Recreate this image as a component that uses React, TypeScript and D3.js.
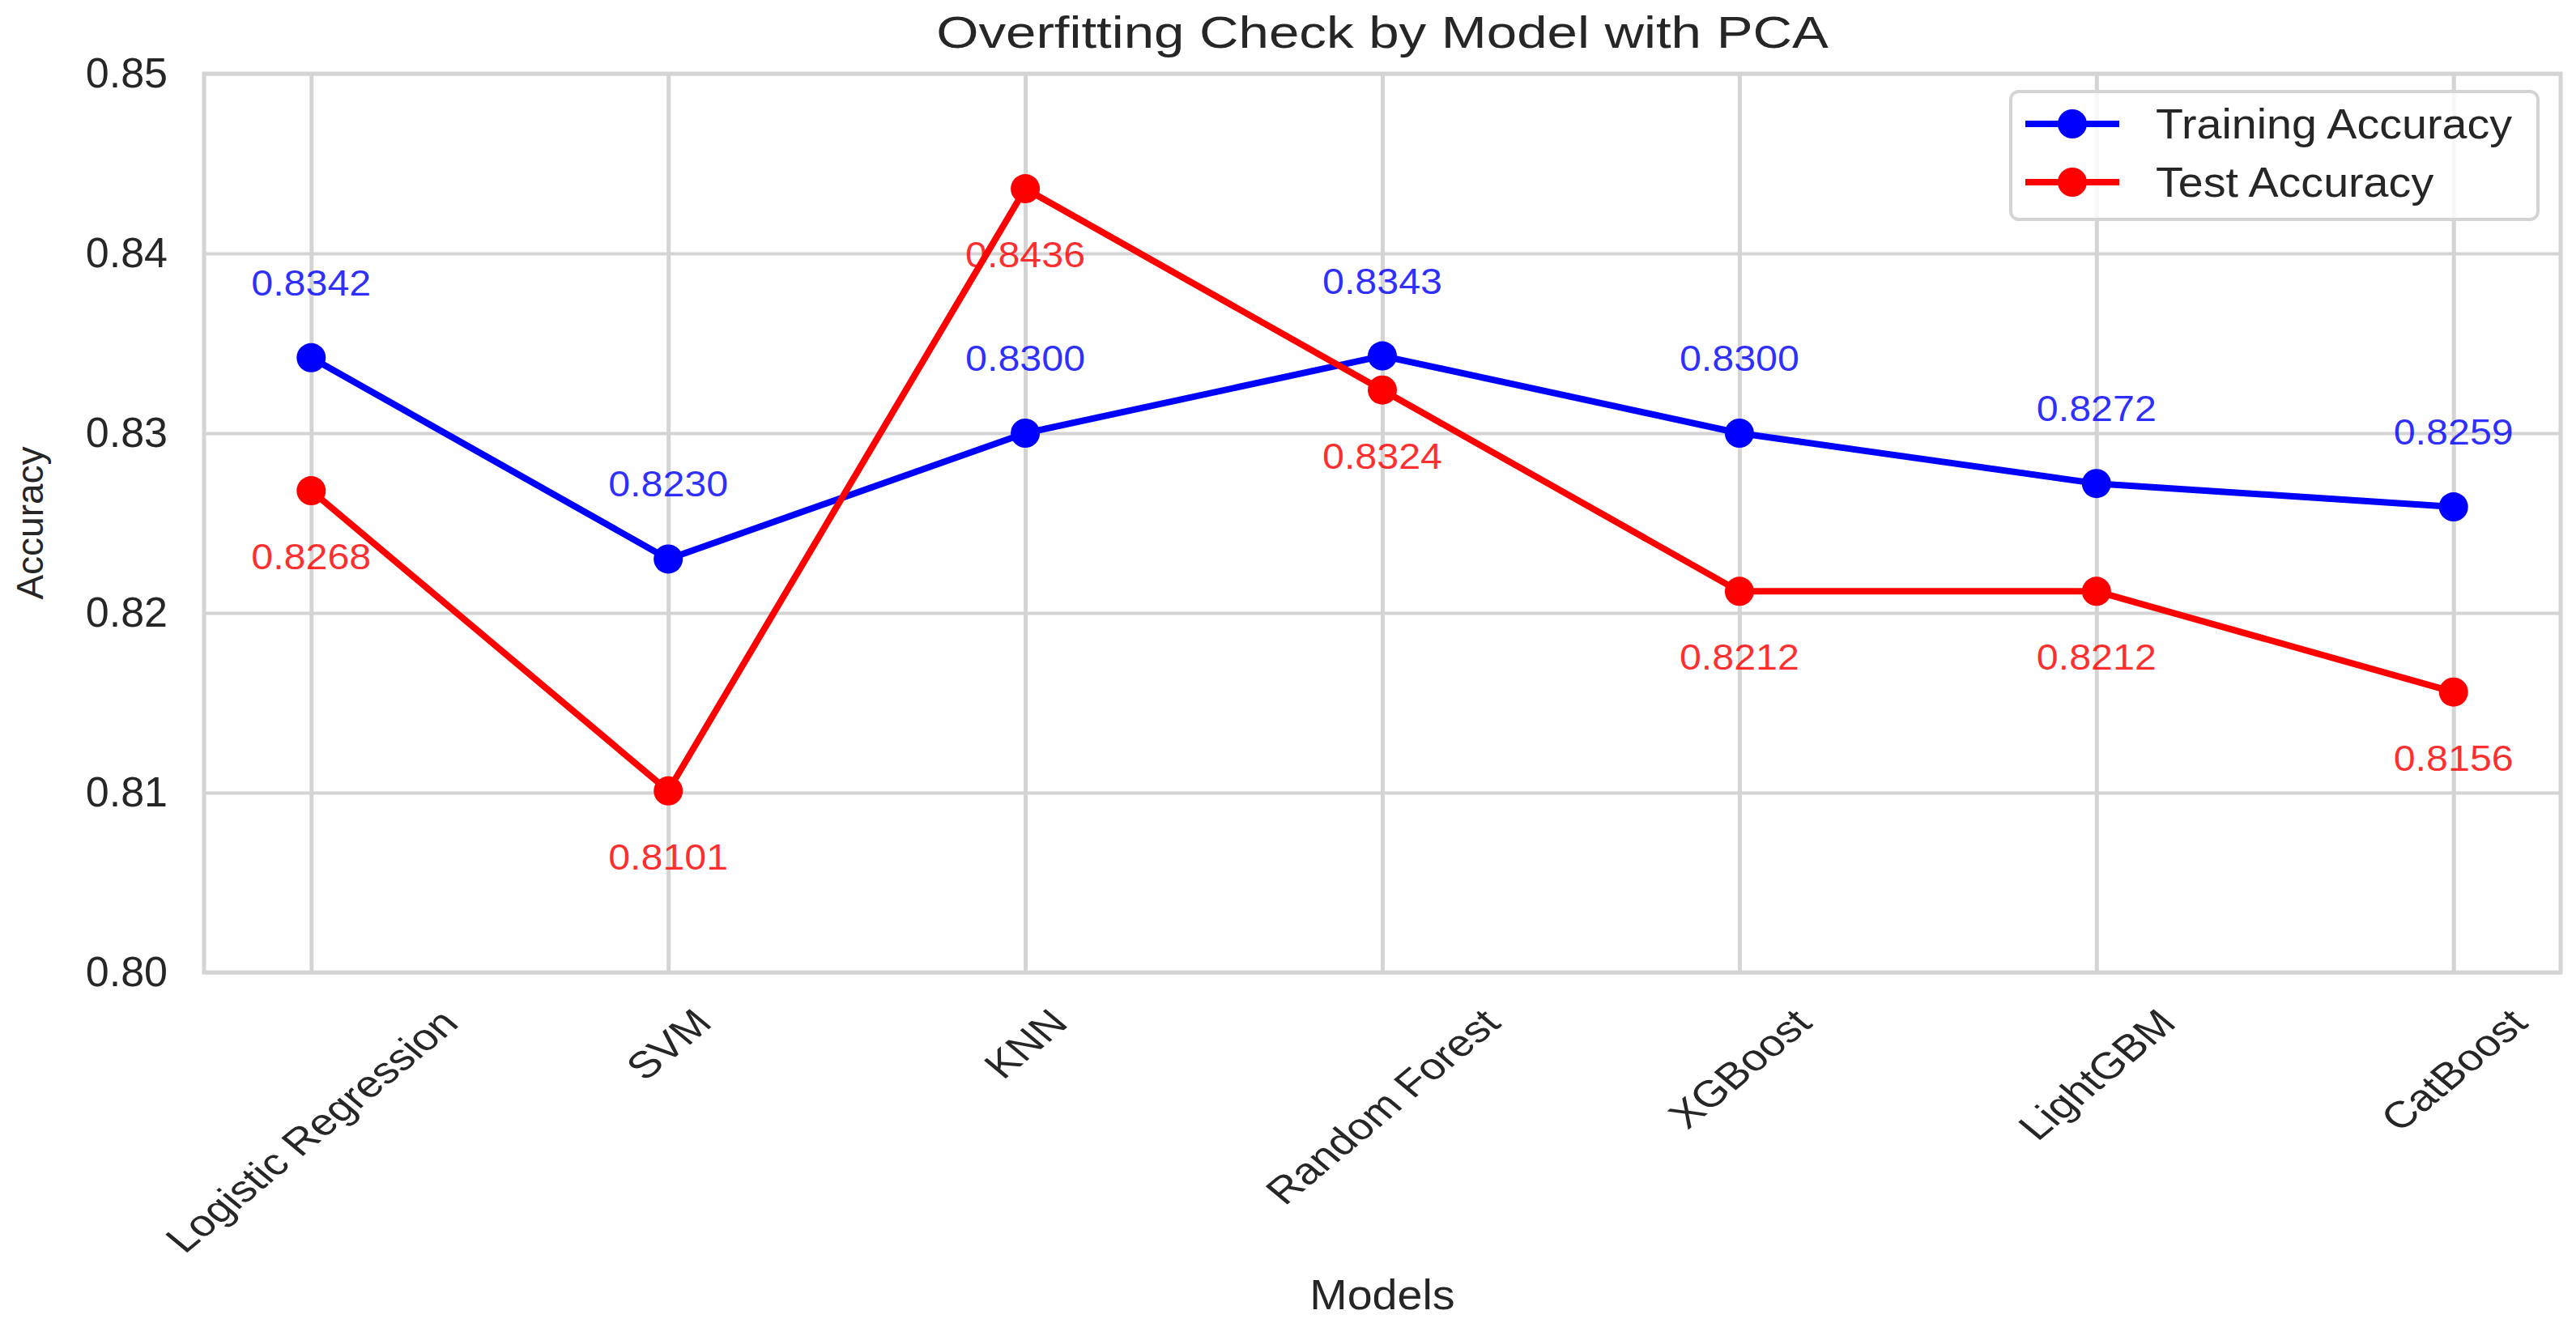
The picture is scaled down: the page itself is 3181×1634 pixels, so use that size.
import { useEffect, useRef } from 'react';
import * as d3 from 'd3';

const models = ['Logistic Regression', 'SVM', 'KNN', 'Random Forest', 'XGBoost', 'LightGBM', 'CatBoost'];
const trainAcc = [0.8342, 0.823, 0.83, 0.8343, 0.83, 0.8272, 0.8259];
const testAcc = [0.8268, 0.8101, 0.8436, 0.8324, 0.8212, 0.8212, 0.8156];
const yTicks = [0.8, 0.81, 0.82, 0.83, 0.84, 0.85];
const seriesNames = ['Training Accuracy', 'Test Accuracy'];

const WIDTH = 3181;
const HEIGHT = 1634;
const FONT = '"Liberation Sans", Arial, Helvetica, sans-serif';
const TEXT = '#262626';
const GRID = '#d4d4d4';

export default function App() {
  const svgRef = useRef<SVGSVGElement>(null);

  useEffect(() => {
    if (!svgRef.current) return;
    const svg = d3.select(svgRef.current);
    svg.selectAll('*').remove();

    const margin = { top: 91, right: WIDTH - 3162, bottom: HEIGHT - 1201, left: 252 };
    const innerW = WIDTH - margin.left - margin.right;
    const innerH = HEIGHT - margin.top - margin.bottom;

    svg.append('rect').attr('width', WIDTH).attr('height', HEIGHT).attr('fill', '#fff');

    const g = svg.append('g').attr('transform', `translate(${margin.left},${margin.top})`);

    const x = d3.scaleLinear().domain([-0.3, models.length - 1 + 0.3]).range([0, innerW]);
    const y = d3.scaleLinear().domain([0.8, 0.85]).range([innerH, 0]);

    // y grid + tick labels
    const yAxis = g
      .append('g')
      .call(
        d3
          .axisLeft(y)
          .tickValues(yTicks)
          .tickSize(-innerW)
          .tickPadding(45)
          .tickFormat(d3.format('.2f'))
      );
    yAxis.select('.domain').remove();
    yAxis.selectAll('.tick line').attr('stroke', GRID).attr('stroke-width', 4);
    yAxis
      .selectAll('.tick text')
      .attr('fill', TEXT)
      .style('font-family', FONT)
      .style('font-size', '52px');

    // x grid + rotated tick labels (the reference is a bit wider than tall)
    const xFont = 46;
    const xStretch = 1.2;
    const xAxis = g
      .append('g')
      .attr('transform', `translate(0,${innerH})`)
      .call(
        d3
          .axisBottom(x)
          .tickValues(d3.range(models.length))
          .tickSize(-innerH)
          .tickFormat((i) => models[i as number])
      );
    xAxis.select('.domain').remove();
    xAxis.selectAll('.tick line').attr('stroke', GRID).attr('stroke-width', 5);
    xAxis
      .selectAll<SVGTextElement, number>('.tick text')
      .attr('fill', TEXT)
      .style('font-family', FONT)
      .style('font-size', `${xFont}px`)
      .attr('y', null)
      .attr('dy', null)
      .attr('text-anchor', 'middle')
      .attr('dominant-baseline', 'central')
      .each(function () {
        const len = this.getComputedTextLength();
        const half = (0.7071 * (len + 0.85 * xFont)) / 2;
        d3.select(this).attr(
          'transform',
          `translate(0,${40 + half}) scale(${xStretch},1) rotate(-45)`
        );
      });

    // spines
    g.append('rect')
      .attr('width', innerW)
      .attr('height', innerH)
      .attr('fill', 'none')
      .attr('stroke', GRID)
      .attr('stroke-width', 5);

    const line = d3
      .line<number>()
      .x((_, i) => x(i))
      .y((d) => y(d));

    const series = [
      { values: trainAcc, color: '#0000ff', labelDy: -77 },
      { values: testAcc, color: '#ff0000', labelDy: 97 },
    ];

    series.forEach((s) => {
      g.append('path')
        .datum(s.values)
        .attr('d', line)
        .attr('fill', 'none')
        .attr('stroke', s.color)
        .attr('stroke-width', 8)
        .attr('stroke-linejoin', 'round');

      g.selectAll(null)
        .data(s.values)
        .join('circle')
        .attr('cx', (_, i) => x(i))
        .attr('cy', (d) => y(d))
        .attr('r', 18)
        .attr('fill', s.color);
    });

    // value labels
    series.forEach((s) => {
      g.selectAll(null)
        .data(s.values)
        .join('text')
        .attr('transform', (d, i) => `translate(${x(i)},${y(d) + s.labelDy}) scale(1.1,1)`)
        .attr('text-anchor', 'middle')
        .attr('fill', s.color)
        .attr('fill-opacity', 0.82)
        .style('font-family', FONT)
        .style('font-size', '44px')
        .text((d) => d.toFixed(4));
    });

    // legend
    const legend = svg.append('g');
    legend
      .append('rect')
      .attr('x', 2483)
      .attr('y', 113)
      .attr('width', 3134 - 2483)
      .attr('height', 271 - 113)
      .attr('rx', 10)
      .attr('fill', '#fff')
      .attr('fill-opacity', 0.8)
      .attr('stroke', GRID)
      .attr('stroke-width', 4);

    series.forEach((s, i) => {
      const ry = 153 + i * 72;
      legend
        .append('line')
        .attr('x1', 2501)
        .attr('x2', 2617)
        .attr('y1', ry)
        .attr('y2', ry)
        .attr('stroke', s.color)
        .attr('stroke-width', 8);
      legend.append('circle').attr('cx', 2559).attr('cy', ry).attr('r', 18).attr('fill', s.color);
      legend
        .append('text')
        .attr('transform', `translate(2662,${ry + 18}) scale(1.07,1)`)
        .attr('fill', TEXT)
        .style('font-family', FONT)
        .style('font-size', '52px')
        .text(seriesNames[i]);
    });

    // title and axis labels
    svg
      .append('text')
      .attr('transform', `translate(${margin.left + innerW / 2},59) scale(1.2,1)`)
      .attr('text-anchor', 'middle')
      .attr('fill', TEXT)
      .style('font-family', FONT)
      .style('font-size', '56px')
      .text('Overfitting Check by Model with PCA');

    svg
      .append('text')
      .attr('transform', `translate(${margin.left + innerW / 2},1617) scale(1.07,1)`)
      .attr('text-anchor', 'middle')
      .attr('fill', TEXT)
      .style('font-family', FONT)
      .style('font-size', '52px')
      .text('Models');

    svg
      .append('text')
      .attr('transform', `translate(53,${margin.top + innerH / 2}) rotate(-90)`)
      .attr('text-anchor', 'middle')
      .attr('fill', TEXT)
      .style('font-family', FONT)
      .style('font-size', '46px')
      .text('Accuracy');
  }, []);

  return (
    <svg
      ref={svgRef}
      width={WIDTH}
      height={HEIGHT}
      style={{ position: 'absolute', left: 0, top: 0 }}
    />
  );
}
